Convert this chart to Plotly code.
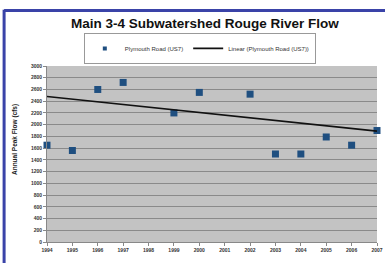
import plotly.graph_objects as go

years = [1994, 1995, 1996, 1997, 1999, 2000, 2002, 2003, 2004, 2005, 2006, 2007]
peak_flow = [1650, 1560, 2600, 2720, 2200, 2550, 2520, 1500, 1500, 1790, 1650, 1900]
trend_years = [1994, 2007]
trend_values = [2480, 1890]
x_ticks = list(range(1994, 2008))
y_ticks = list(range(0, 3001, 200))

FONT = "Liberation Sans, Arial, sans-serif"
MARK = "#1f4f80"

fig = go.Figure()
fig.add_trace(go.Scatter(
    x=years, y=peak_flow, mode="markers", name="Plymouth Road (US7)",
    marker=dict(symbol="square", size=7, color=MARK),
    cliponaxis=False, showlegend=False,
))
fig.add_trace(go.Scatter(
    x=[None], y=[None], mode="markers", name="Plymouth Road (US7)",
    marker=dict(symbol="square", size=4, color=MARK), showlegend=True,
))
fig.add_trace(go.Scatter(
    x=trend_years, y=trend_values, mode="lines", name="Linear (Plymouth Road (US7))",
    line=dict(color="#111111", width=1.6),
))

fig.update_layout(
    width=385, height=263,
    margin=dict(l=47, r=8, t=66, b=21, autoexpand=False),
    paper_bgcolor="white", plot_bgcolor="#c3c3c3",
    font=dict(family=FONT, color="#222"),
    showlegend=True,
    title=dict(text="<b>Main 3-4 Subwatershed Rouge River Flow</b>",
               x=0.532, xanchor="center", y=0.912, yanchor="middle",
               xref="container", yref="container",
               font=dict(size=13.5, color="#111", family=FONT)),
    legend=dict(orientation="h", xref="container", yref="container",
                x=0.519, xanchor="center", y=0.875, yanchor="top",
                bgcolor="white", bordercolor="#999", borderwidth=1,
                font=dict(size=6, color="#333", family=FONT),
                itemwidth=30, tracegroupgap=0),
    xaxis=dict(range=[1994, 2007], tickvals=x_ticks, ticktext=[f"<b>{v}</b>" for v in x_ticks],
               showgrid=False, zeroline=False, ticks="outside", ticklen=3,
               tickcolor="#888", showline=True, linecolor="#888", linewidth=1,
               tickfont=dict(size=5, color="#333"), fixedrange=True),
    yaxis=dict(range=[0, 3000], tickvals=y_ticks, ticktext=[f"<b>{v}</b>" for v in y_ticks],
               showgrid=True, gridcolor="#8a8a8a",
               gridwidth=1, zeroline=False, ticks="outside", ticklen=3, tickcolor="#888",
               showline=True, linecolor="#888", linewidth=1,
               tickfont=dict(size=5, color="#333"), fixedrange=True),
    annotations=[dict(text="<b>Annual Peak Flow (cfs)</b>", textangle=-90,
                      xref="paper", yref="paper", x=-0.097, y=0.585,
                      xanchor="center", yanchor="middle", showarrow=False,
                      font=dict(size=6.5, color="#222", family=FONT))],
    shapes=[
        dict(type="line", xref="paper", yref="paper", x0=-0.13, x1=1.03, y0=1.315, y1=1.315,
             line=dict(color="#3a43a8", width=3)),
        dict(type="line", xref="paper", yref="paper", x0=-0.13, x1=-0.13, y0=1.32, y1=-0.13,
             line=dict(color="#3a43a8", width=3)),
    ],
)

fig.write_html("out.html", config={"displayModeBar": False},
               post_script="document.body.style.margin='0';")
